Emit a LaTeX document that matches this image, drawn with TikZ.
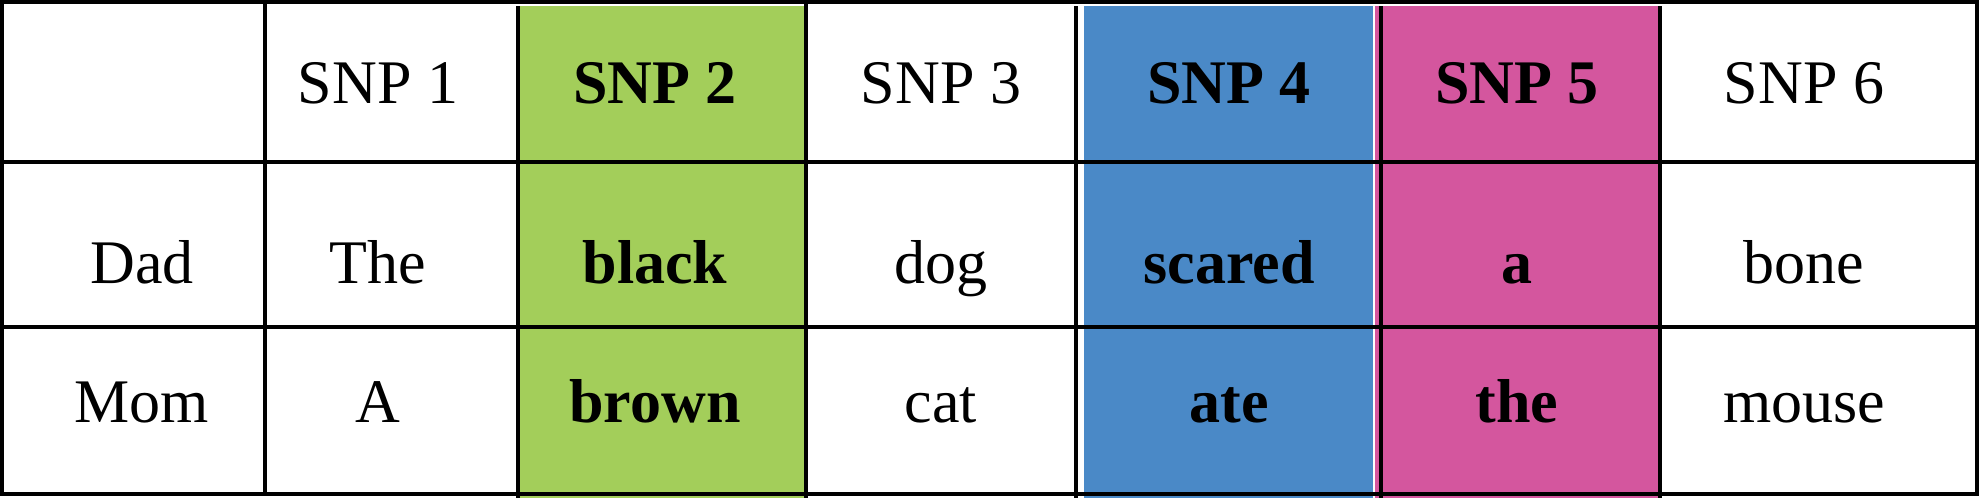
\documentclass[tikz,border=0pt]{standalone}
\usepackage{fontspec}
\setmainfont{Liberation Serif}
\definecolor{snpgreen}{HTML}{A3CE5A}
\definecolor{snpblue}{HTML}{4A89C7}
\definecolor{snppink}{HTML}{D4569E}
\tikzset{
  x=0.5pt,
  y=-0.5pt,
  rule/.style={line width=2pt, black},
  cell/.style={anchor=base, inner sep=0pt, font=\fontsize{31}{36}\selectfont},
  hit/.style={cell, font=\fontsize{31}{36}\selectfont\bfseries},
}

\begin{document}
\begin{tikzpicture}
        \useasboundingbox (0,0) rectangle (1979,498);

        % highlighted columns
        \fill[snpgreen] (520,6) rectangle (804,498);
        \fill[snpblue] (1084,6) rectangle (1373,498);
        \fill[snppink] (1375,6) rectangle (1658,498);

        % rules
        \draw[rule] (0,2) -- (1979,2);
        \draw[rule] (0,162) -- (1979,162);
        \draw[rule] (0,326.5) -- (1979,326.5);
        \draw[rule] (0,493.5) -- (1979,493.5);
        \draw[rule] (2,0) -- (2,495);
        \draw[rule] (265,0) -- (265,495);
        \draw[rule] (518,6) -- (518,498);
        \draw[rule] (805.5,4) -- (805.5,498);
        \draw[rule] (1076,6) -- (1076,498);
        \draw[rule] (1381,6) -- (1381,498);
        \draw[rule] (1660,6) -- (1660,498);
        \draw[rule] (1977,0) -- (1977,495);

        % header
        \node[cell] (h1) at (378,103) {SNP 1};
        \node[hit] (h2) at (655,103) {SNP 2};
        \node[cell] (h3) at (941,103) {SNP 3};
        \node[hit] (h4) at (1229,103) {SNP 4};
        \node[hit] (h5) at (1517,103) {SNP 5};
        \node[cell] (h6) at (1804,103) {SNP 6};

        % dad
        \node[cell] (dad) at (142,283) {Dad};
        \node[cell] (d1) at (378,283) {The};
        \node[hit] (d2) at (655,283) {black};
        \node[cell] (d3) at (941,283) {dog};
        \node[hit] (d4) at (1229,283) {scared};
        \node[hit] (d5) at (1517,283) {a};
        \node[cell] (d6) at (1804,283) {bone};

        % mom
        \node[cell] (mom) at (142,422) {Mom};
        \node[cell] (m1) at (378,422) {A};
        \node[hit] (m2) at (655,422) {brown};
        \node[cell] (m3) at (941,422) {cat};
        \node[hit] (m4) at (1229,422) {ate};
        \node[hit] (m5) at (1517,422) {the};
        \node[cell] (m6) at (1804,422) {mouse};

      \end{tikzpicture}
\end{document}
